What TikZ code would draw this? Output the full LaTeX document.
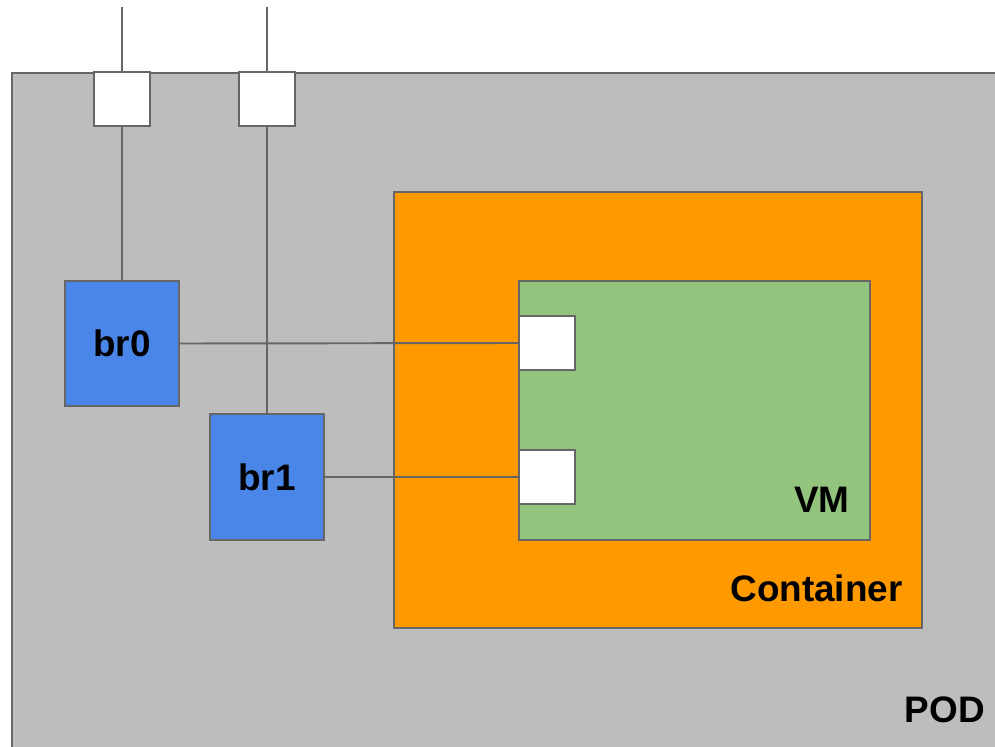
\documentclass[tikz,border=0pt]{standalone}
\usepackage{fontspec}
\setmainfont{Liberation Sans}
\usepackage{tikz}
\usetikzlibrary{positioning,calc}
\definecolor{podgray}{HTML}{BDBDBD}
\definecolor{edgegray}{HTML}{666666}
\definecolor{brblue}{HTML}{4A86E8}
\definecolor{ctorange}{HTML}{FF9900}
\definecolor{vmgreen}{HTML}{93C47D}
\begin{document}
\begin{tikzpicture}[x=0.02cm,y=-0.02cm,
                    box/.style={draw=edgegray,line width=1.1pt,inner sep=0pt},
                    port/.style={box,fill=white,minimum width=1.12cm,minimum height=1.08cm},
                    bridge/.style={box,fill=brblue,minimum width=2.28cm,minimum height=2.5cm,
                      font=\fontsize{21}{25}\selectfont\bfseries},
                    tag/.style={inner sep=0pt,font=\fontsize{21}{25}\selectfont\bfseries},
                    wire/.style={draw=edgegray,line width=1.1pt}]

  \useasboundingbox (0,0) rectangle (995,747);
  \clip (0,0) rectangle (995,747);

  % POD, Container and VM
  \node (pod) [box,fill=podgray,anchor=north west,minimum width=20cm,minimum height=14cm] at (11,72) {};
  \node (cont) [box,fill=ctorange,minimum width=10.56cm,minimum height=8.72cm] at (658,410) {};
  \node (vm) [box,fill=vmgreen,minimum width=7.02cm,minimum height=5.18cm] at (694.5,410.5) {};

  \node (podlbl) [tag,anchor=base east] at (985,722) {POD};
  \node (contlbl) [tag,anchor=base east] at (903,601) {Container};
  \node (vmlbl) [tag,anchor=base east] at (850,512) {VM};

  % ports and bridges
  \coordinate (t0) at (122,7);
  \coordinate (t1) at (267,7);
  \node (p0) [port] at (122,99) {};
  \node (p1) [port] at (267,99) {};
  \node (v0) [port] at (547,343) {};
  \node (v1) [port] at (547,477) {};
  \node (br0) [bridge] at (122,343.5) {br0};
  \node (br1) [bridge,minimum height=2.52cm] at (267,477) {br1};

  % wires
  \path [wire] (t0) -- (p0);
  \path [wire] (t1) -- (p1);
  \path [wire] (p0) -- (br0);
  \path [wire] (p1) -- (br1);
  \path [wire] (br0.east) -- (v0.west);
  \path [wire] (br1.east) -- (v1.west);
\end{tikzpicture}
\end{document}
